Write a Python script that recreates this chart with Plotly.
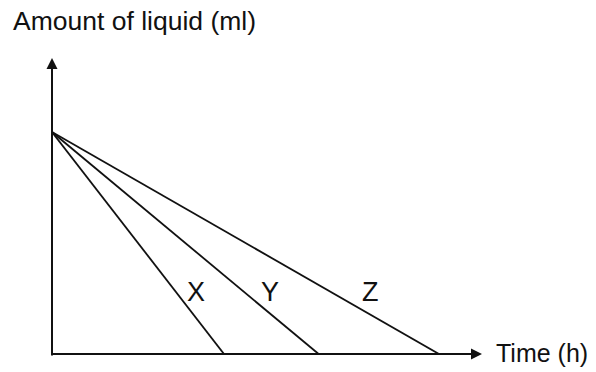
import plotly.graph_objects as go

# 液体量随时间下降的三条直线
series_names = ["X", "Y", "Z"]
start_amount = 7.5            # 初始液体量（任意单位）
empty_time = [4.0, 6.2, 9.0]  # 液体耗尽时间（任意单位）

FONT = "Liberation Sans, Arial, sans-serif"
INK = "#111111"

fig = go.Figure()

for name, t_end in zip(series_names, empty_time):
    fig.add_trace(go.Scatter(
        x=[0, t_end], y=[start_amount, 0],
        mode="lines", name=name,
        line=dict(color=INK, width=1.8),
        hoverinfo="skip",
    ))

# 坐标轴（带箭头）
fig.add_annotation(x=0, y=10, ax=0, ay=-0.1, xref="x", yref="y", axref="x", ayref="y",
                   showarrow=True, arrowhead=2, arrowsize=1.1, arrowwidth=2, arrowcolor=INK, text="")
fig.add_annotation(x=10, y=0, ax=-0.05, ay=0, xref="x", yref="y", axref="x", ayref="y",
                   showarrow=True, arrowhead=2, arrowsize=1.1, arrowwidth=2, arrowcolor=INK, text="")

# 直线标签
label_pos = [(3.35, 2.1), (5.07, 2.1), (7.4, 2.1)]
for name, (lx, ly) in zip(series_names, label_pos):
    fig.add_annotation(x=lx, y=ly, text=name, showarrow=False,
                       font=dict(family=FONT, size=27, color=INK))

# 轴标题（paper 坐标，相对绘图区）
fig.add_annotation(x=-0.095, y=1.126, xref="paper", yref="paper",
                   xanchor="left", yanchor="middle",
                   text="Amount of liquid (ml)", showarrow=False,
                   font=dict(family=FONT, size=26.5, color=INK))
fig.add_annotation(x=1.028, y=0.003, xref="paper", yref="paper",
                   xanchor="left", yanchor="middle",
                   text="Time (h)", showarrow=False,
                   font=dict(family=FONT, size=25, color=INK))

fig.update_xaxes(range=[0, 10], visible=False, fixedrange=True)
fig.update_yaxes(range=[0, 10], visible=False, fixedrange=True)

fig.update_layout(
    width=596, height=372,
    margin=dict(l=44, r=122, t=50, b=26, autoexpand=False),
    plot_bgcolor="white", paper_bgcolor="white",
    showlegend=False,
)

fig.write_html("out.html")
